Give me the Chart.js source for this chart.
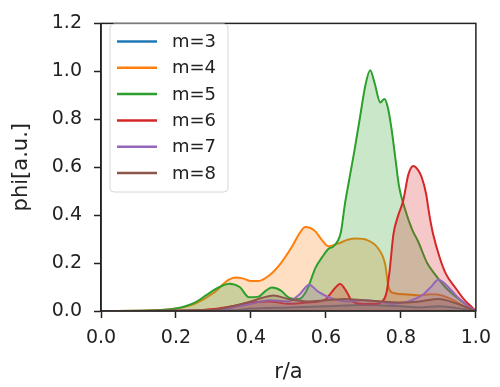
<!DOCTYPE html>
<html>
<head>
<meta charset="utf-8">
<script src="https://cdn.jsdelivr.net/npm/chart.js@4.4.1/dist/chart.umd.min.js"></script>
<style>
  html, body { margin: 0; padding: 0; background: #fff; }
  #wrap { width: 500px; height: 387px; position: relative; }
</style>
</head>
<body>
<div id="wrap"><canvas id="c" width="500" height="387"></canvas></div>
<script>
// Radial mode profiles phi(r/a) for poloidal mode numbers m = 3..8
const seriesLabels = ['m=3', 'm=4', 'm=5', 'm=6', 'm=7', 'm=8'];
const seriesColors = ['#1f77b4', '#ff7f0e', '#2ca02c', '#d62728', '#9467bd', '#8c564b'];

const m3R   = [0, 0.35, 0.40, 0.50, 0.60, 0.70, 0.80, 0.85, 0.90, 0.95, 1.0];
const m3Phi = [0, 0.003, 0.010, 0.015, 0.020, 0.025, 0.020, 0.015, 0.020, 0.012, 0];

const m4R   = [0, 0.15, 0.20, 0.25, 0.30, 0.34, 0.36, 0.38, 0.40, 0.42, 0.45, 0.48, 0.51, 0.53, 0.545, 0.57, 0.59, 0.607, 0.63, 0.66, 0.68, 0.71, 0.74, 0.758, 0.767, 0.78, 0.81, 0.85, 0.88, 0.91, 0.94, 0.97, 1.0];
const m4Phi = [0, 0.003, 0.010, 0.030, 0.075, 0.130, 0.140, 0.135, 0.125, 0.125, 0.150, 0.200, 0.270, 0.325, 0.350, 0.335, 0.295, 0.270, 0.280, 0.298, 0.302, 0.296, 0.260, 0.195, 0.100, 0.075, 0.070, 0.065, 0.070, 0.065, 0.045, 0.018, 0];

const m5R   = [0, 0.15, 0.20, 0.25, 0.28, 0.31, 0.342, 0.37, 0.395, 0.42, 0.44, 0.456, 0.48, 0.50, 0.528, 0.55, 0.572, 0.59, 0.607, 0.62, 0.64, 0.65, 0.66, 0.675, 0.69, 0.705, 0.718, 0.73, 0.745, 0.756, 0.765, 0.775, 0.785, 0.795, 0.81, 0.83, 0.846, 0.87, 0.89, 0.918, 0.95, 0.98, 1.0];
const m5Phi = [0, 0.003, 0.010, 0.035, 0.065, 0.095, 0.114, 0.100, 0.057, 0.060, 0.085, 0.098, 0.085, 0.057, 0.050, 0.090, 0.180, 0.225, 0.260, 0.270, 0.330, 0.440, 0.530, 0.660, 0.800, 0.940, 1.005, 0.950, 0.870, 0.885, 0.850, 0.760, 0.640, 0.520, 0.430, 0.340, 0.290, 0.200, 0.155, 0.100, 0.055, 0.020, 0];

const m6R   = [0, 0.25, 0.30, 0.35, 0.40, 0.45, 0.50, 0.55, 0.60, 0.615, 0.638, 0.656, 0.67, 0.70, 0.73, 0.75, 0.761, 0.77, 0.78, 0.793, 0.806, 0.82, 0.833, 0.845, 0.855, 0.867, 0.876, 0.886, 0.904, 0.92, 0.944, 0.97, 0.99, 1.0];
const m6Phi = [0, 0.002, 0.008, 0.020, 0.035, 0.040, 0.030, 0.035, 0.050, 0.078, 0.113, 0.078, 0.040, 0.030, 0.030, 0.040, 0.073, 0.170, 0.320, 0.400, 0.460, 0.570, 0.605, 0.590, 0.560, 0.490, 0.400, 0.320, 0.220, 0.155, 0.100, 0.045, 0.015, 0];

const m7R   = [0, 0.30, 0.35, 0.40, 0.45, 0.50, 0.53, 0.555, 0.58, 0.62, 0.66, 0.70, 0.74, 0.78, 0.82, 0.86, 0.88, 0.90, 0.92, 0.95, 0.98, 1.0];
const m7Phi = [0, 0.003, 0.015, 0.030, 0.045, 0.040, 0.070, 0.110, 0.080, 0.050, 0.040, 0.045, 0.040, 0.030, 0.040, 0.070, 0.100, 0.130, 0.110, 0.060, 0.020, 0];

const m8R   = [0, 0.30, 0.35, 0.40, 0.43, 0.46, 0.50, 0.55, 0.60, 0.65, 0.70, 0.75, 0.80, 0.85, 0.90, 0.95, 1.0];
const m8Phi = [0, 0.005, 0.020, 0.040, 0.055, 0.065, 0.050, 0.040, 0.045, 0.050, 0.045, 0.040, 0.035, 0.040, 0.050, 0.030, 0];

const xTicks = [0.0, 0.2, 0.4, 0.6, 0.8, 1.0];
const yTicks = [0.0, 0.2, 0.4, 0.6, 0.8, 1.0, 1.2];

const seriesR   = [m3R, m4R, m5R, m6R, m7R, m8R];
const seriesPhi = [m3Phi, m4Phi, m5Phi, m6Phi, m7Phi, m8Phi];

function hexA(hex, a) {
  const n = parseInt(hex.slice(1), 16);
  return `rgba(${(n >> 16) & 255},${(n >> 8) & 255},${n & 255},${a})`;
}

const FONT = 'DejaVu Sans';
const INK = '#222';

const datasets = seriesLabels.map((label, i) => ({
  label,
  data: seriesR[i].map((r, k) => ({ x: r, y: seriesPhi[i][k] })),
  borderColor: seriesColors[i],
  backgroundColor: hexA(seriesColors[i], 0.25),
  borderWidth: 2,
  fill: 'origin',
  pointRadius: 0,
  cubicInterpolationMode: 'monotone',
  order: seriesLabels.length - i
}));

// Boxed frame around the plotting area (top and right edges included)
const framePlugin = {
  id: 'frame',
  afterDatasetsDraw(chart) {
    const { ctx, chartArea: a } = chart;
    ctx.save();
    ctx.strokeStyle = INK;
    ctx.lineWidth = 1.5;
    ctx.strokeRect(a.left, a.top, a.right - a.left, a.bottom - a.top);
    ctx.restore();
  }
};

// Legend drawn inside the axes, upper left
const innerLegend = {
  id: 'innerLegend',
  afterDraw(chart) {
    const { ctx } = chart;
    const x0 = 110, y0 = 24, w = 118, h = 168, r = 4;
    ctx.save();
    ctx.fillStyle = 'rgba(255,255,255,0.85)';
    ctx.strokeStyle = '#d6d6d6';
    ctx.lineWidth = 1;
    ctx.beginPath();
    ctx.roundRect(x0, y0, w, h, r);
    ctx.fill();
    ctx.stroke();
    ctx.font = `18px "${FONT}"`;
    ctx.textBaseline = 'middle';
    ctx.textAlign = 'left';
    chart.data.datasets.forEach((ds, i) => {
      const y = 41.5 + i * 26.3;
      ctx.strokeStyle = ds.borderColor;
      ctx.lineWidth = 2.5;
      ctx.beginPath();
      ctx.moveTo(117, y);
      ctx.lineTo(157, y);
      ctx.stroke();
      ctx.fillStyle = INK;
      ctx.fillText(ds.label, 172, y + 1);
    });
    ctx.restore();
  }
};

new Chart(document.getElementById('c'), {
  type: 'line',
  data: { datasets },
  options: {
    responsive: false,
    animation: false,
    layout: { padding: { top: 16, right: 22, left: 0, bottom: 0 } },
    plugins: { legend: { display: false }, tooltip: { enabled: false } },
    scales: {
      x: {
        type: 'linear',
        min: 0, max: 1,
        afterBuildTicks: s => { s.ticks = xTicks.map(v => ({ value: v })); },
        afterFit: s => { s.height = 76; },
        ticks: {
          font: { family: FONT, size: 19 }, color: INK, padding: 9,
          maxRotation: 0,
          callback: v => Number(v).toFixed(1)
        },
        grid: { display: true, drawOnChartArea: false, drawTicks: true, tickLength: 7, tickWidth: 1.5, tickColor: INK },
        border: { display: true, color: INK, width: 1.5 },
        title: { display: true, text: 'r/a', font: { family: FONT, size: 21 }, color: INK, padding: { top: 0, bottom: 2 } }
      },
      y: {
        type: 'linear',
        min: 0, max: 1.2,
        afterBuildTicks: s => { s.ticks = yTicks.map(v => ({ value: v })); },
        afterFit: s => { s.width = 101; },
        ticks: {
          font: { family: FONT, size: 19 }, color: INK, padding: 12,
          callback: v => Number(v).toFixed(1)
        },
        grid: { display: true, drawOnChartArea: false, drawTicks: true, tickLength: 7, tickWidth: 1.5, tickColor: INK },
        border: { display: true, color: INK, width: 1.5 },
        title: { display: true, text: 'phi[a.u.]', font: { family: FONT, size: 21 }, color: INK, padding: { top: 9, bottom: 0 } }
      }
    }
  },
  plugins: [framePlugin, innerLegend]
});
</script>
</body>
</html>
